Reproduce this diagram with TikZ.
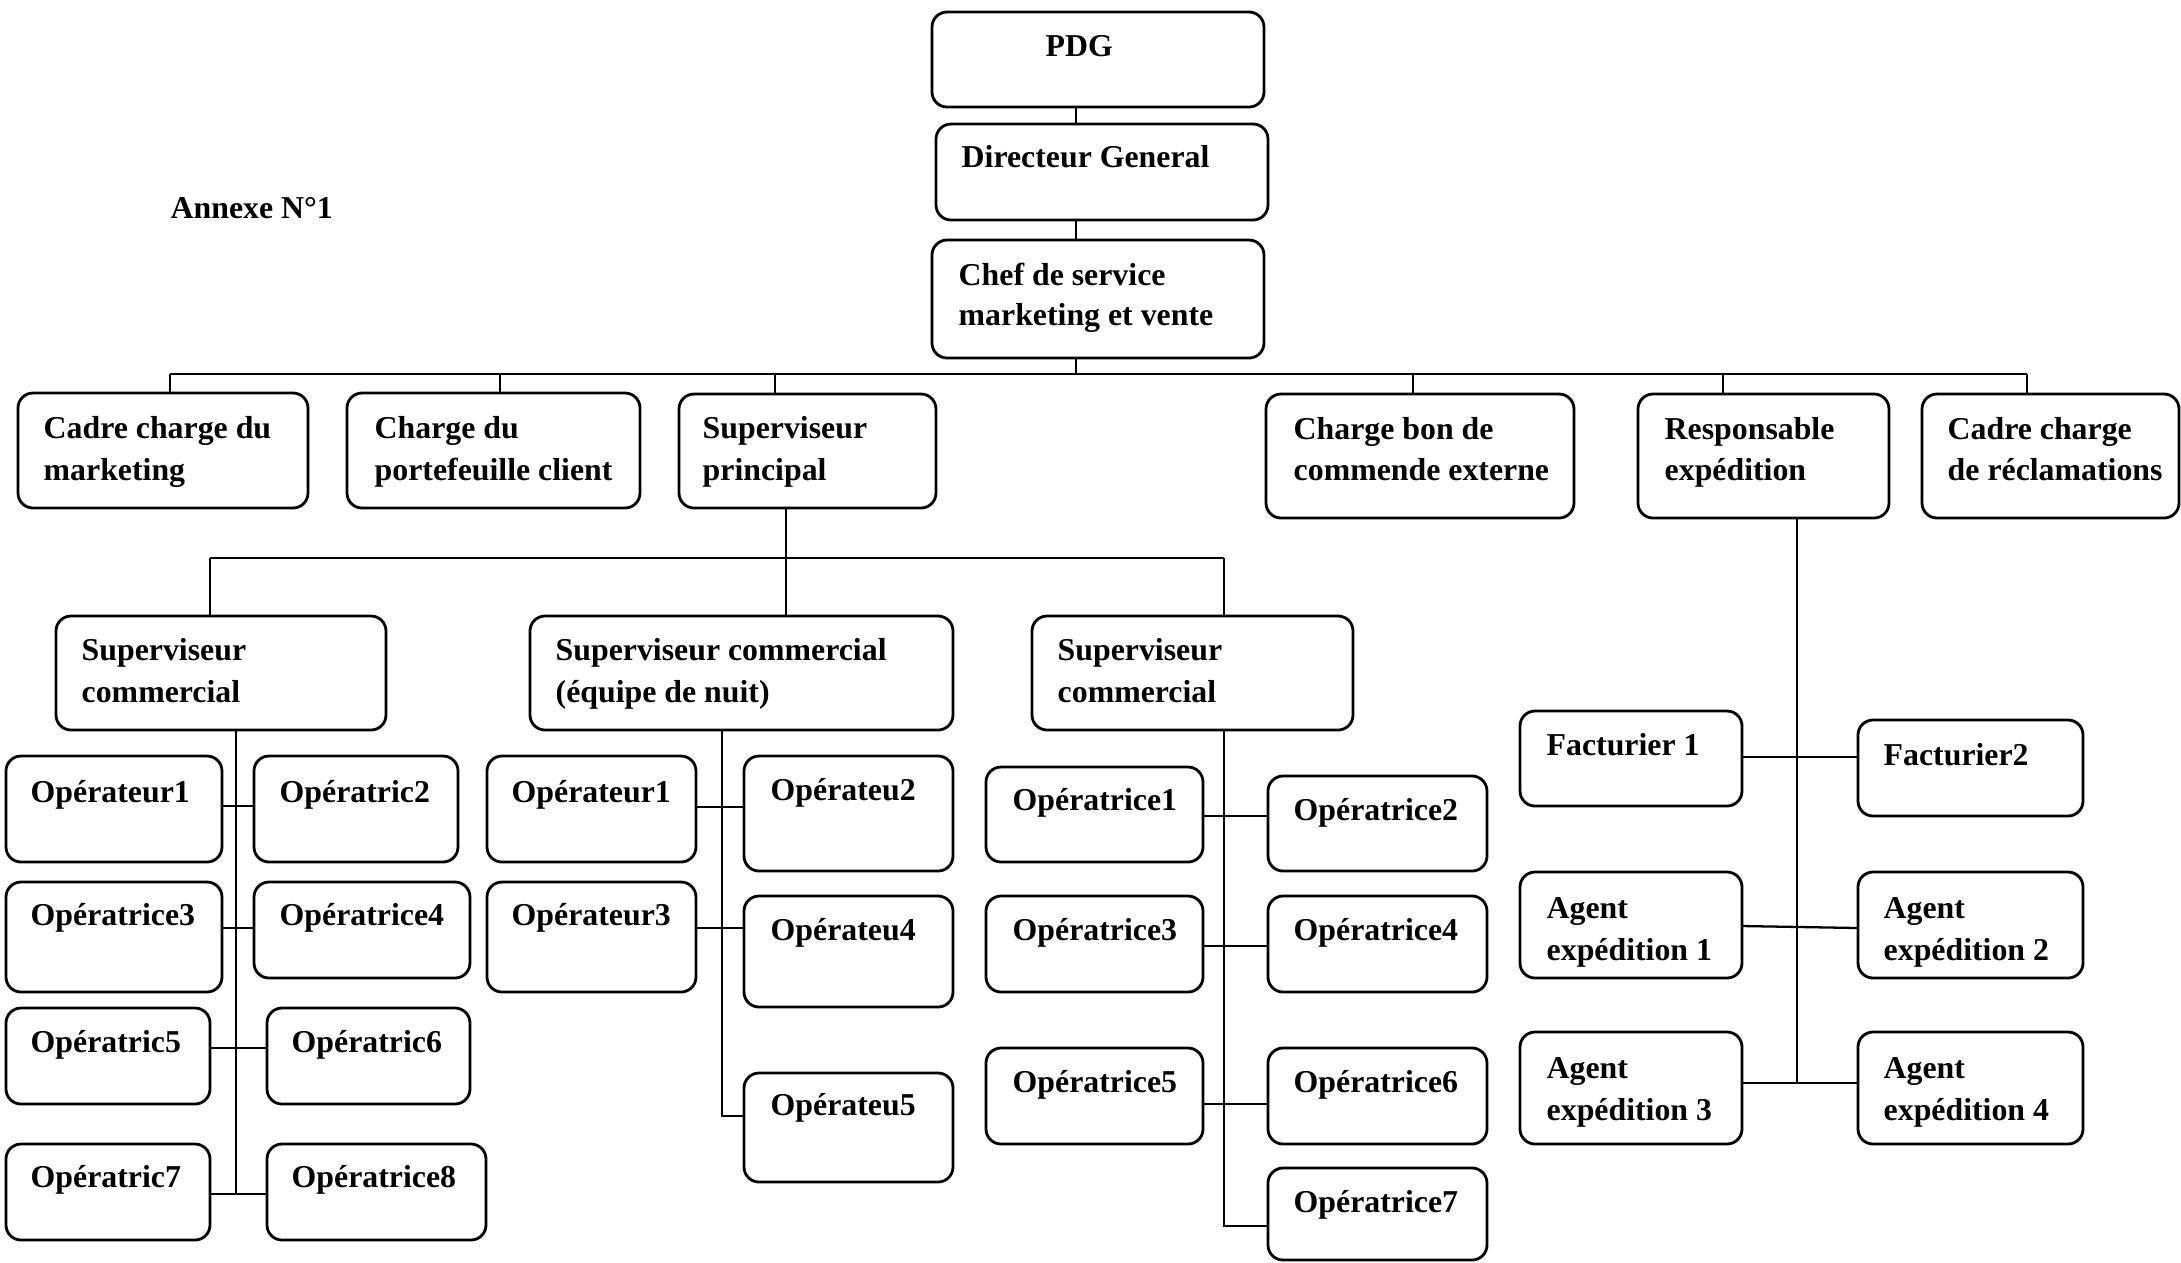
\documentclass[tikz,border=0pt]{standalone}
\usepackage{fontspec}
\setmainfont{Liberation Serif}
\newcommand\orgbox[5]{\node[obox, minimum width={(#4-#2)*0.01cm}, minimum height={(#5-#3)*0.01cm}] (#1) at ({(#2+#4)/2},{(#3+#5)/2}) {};}
\newcommand\orgtxt[4]{\node[otxt] (#1) at (#2,#3) {#4};}
\begin{document}
\begin{tikzpicture}[x=0.01cm,y=-0.01cm,
  obox/.style={draw, rounded corners=0.15cm, line width=0.8pt, inner sep=0pt, outer sep=0pt},
  otxt/.style={anchor=base west, inner sep=0pt, font=\bfseries\fontsize{9.05}{11}\selectfont},
  conn/.style={line width=0.65pt}]
\useasboundingbox (0,0) rectangle (2181,1262);

% top chain
\orgbox{pdg}{932}{12}{1264}{107}
\orgtxt{pdgT}{1045}{56}{PDG}
\orgbox{dg}{936}{124}{1268}{220}
\orgtxt{dgT}{961}{167}{Directeur General}
\orgbox{chef}{932}{240}{1264}{358}
\orgtxt{chefT1}{958}{285}{Chef de service}
\orgtxt{chefT2}{958}{325}{marketing et vente}
\orgtxt{annexe}{170}{218}{Annexe N°1}

% level 2
\orgbox{cadre}{18}{393}{308}{508}
\orgtxt{cadreT1}{43}{438}{Cadre charge du}
\orgtxt{cadreT2}{43}{480}{marketing}
\orgbox{port}{347}{393}{640}{508}
\orgtxt{portT1}{374}{438}{Charge du}
\orgtxt{portT2}{374}{480}{portefeuille client}
\orgbox{supp}{679}{394}{936}{508}
\orgtxt{suppT1}{702}{438}{Superviseur}
\orgtxt{suppT2}{702}{480}{principal}
\orgbox{bon}{1266}{394}{1574}{518}
\orgtxt{bonT1}{1293}{439}{Charge bon de}
\orgtxt{bonT2}{1293}{480}{commende externe}
\orgbox{resp}{1638}{394}{1889}{518}
\orgtxt{respT1}{1664}{439}{Responsable}
\orgtxt{respT2}{1664}{480}{expédition}
\orgbox{recl}{1922}{394}{2179}{518}
\orgtxt{reclT1}{1947}{439}{Cadre charge}
\orgtxt{reclT2}{1947}{480}{de réclamations}

% level 3
\orgbox{scl}{56}{616}{386}{730}
\orgtxt{sclT1}{81}{660}{Superviseur}
\orgtxt{sclT2}{81}{702}{commercial}
\orgbox{scn}{530}{616}{953}{730}
\orgtxt{scnT1}{555}{660}{Superviseur commercial}
\orgtxt{scnT2}{555}{702}{(équipe de nuit)}
\orgbox{scr}{1032}{616}{1353}{730}
\orgtxt{scrT1}{1057}{660}{Superviseur}
\orgtxt{scrT2}{1057}{702}{commercial}

% left team
\orgbox{o1}{6}{756}{222}{862}\orgtxt{o1T}{30}{802}{Opérateur1}
\orgbox{o2}{254}{756}{458}{862}\orgtxt{o2T}{279}{802}{Opératric2}
\orgbox{o3}{6}{882}{222}{992}\orgtxt{o3T}{30}{925}{Opératrice3}
\orgbox{o4}{254}{882}{470}{978}\orgtxt{o4T}{279}{925}{Opératrice4}
\orgbox{o5}{6}{1008}{210}{1104}\orgtxt{o5T}{30}{1052}{Opératric5}
\orgbox{o6}{267}{1008}{470}{1104}\orgtxt{o6T}{291}{1052}{Opératric6}
\orgbox{o7}{6}{1144}{210}{1240}\orgtxt{o7T}{30}{1187}{Opératric7}
\orgbox{o8}{267}{1144}{486}{1240}\orgtxt{o8T}{291}{1187}{Opératrice8}

% night team
\orgbox{n1}{487}{756}{696}{862}\orgtxt{n1T}{511}{802}{Opérateur1}
\orgbox{n2}{744}{756}{953}{871}\orgtxt{n2T}{770}{800}{Opérateu2}
\orgbox{n3}{487}{882}{696}{992}\orgtxt{n3T}{511}{925}{Opérateur3}
\orgbox{n4}{744}{896}{953}{1007}\orgtxt{n4T}{770}{940}{Opérateu4}
\orgbox{n5}{744}{1073}{953}{1182}\orgtxt{n5T}{770}{1115}{Opérateu5}

% right team
\orgbox{r1}{986}{767}{1203}{862}\orgtxt{r1T}{1012}{810}{Opératrice1}
\orgbox{r2}{1268}{776}{1487}{871}\orgtxt{r2T}{1293}{820}{Opératrice2}
\orgbox{r3}{986}{896}{1203}{992}\orgtxt{r3T}{1012}{940}{Opératrice3}
\orgbox{r4}{1268}{896}{1487}{992}\orgtxt{r4T}{1293}{940}{Opératrice4}
\orgbox{r5}{986}{1048}{1203}{1144}\orgtxt{r5T}{1012}{1092}{Opératrice5}
\orgbox{r6}{1268}{1048}{1487}{1144}\orgtxt{r6T}{1293}{1092}{Opératrice6}
\orgbox{r7}{1268}{1168}{1487}{1260}\orgtxt{r7T}{1293}{1212}{Opératrice7}

% expedition team
\orgbox{f1}{1520}{711}{1742}{806}\orgtxt{f1T}{1546}{755}{Facturier 1}
\orgbox{f2}{1858}{720}{2083}{816}\orgtxt{f2T}{1883}{765}{Facturier2}
\orgbox{a1}{1520}{872}{1742}{978}
\orgtxt{a1T1}{1546}{918}{Agent}\orgtxt{a1T2}{1546}{960}{expédition 1}
\orgbox{a2}{1858}{872}{2083}{978}
\orgtxt{a2T1}{1883}{918}{Agent}\orgtxt{a2T2}{1883}{960}{expédition 2}
\orgbox{a3}{1520}{1032}{1742}{1144}
\orgtxt{a3T1}{1546}{1078}{Agent}\orgtxt{a3T2}{1546}{1120}{expédition 3}
\orgbox{a4}{1858}{1032}{2083}{1144}
\orgtxt{a4T1}{1883}{1078}{Agent}\orgtxt{a4T2}{1883}{1120}{expédition 4}

% coordinates for connector geometry
\coordinate (c1) at (1076,0);
\coordinate (d1) at (170,374);
\coordinate (d2) at (500,374);
\coordinate (d3) at (775,374);
\coordinate (dc) at (1076,374);
\coordinate (d4) at (1413,374);
\coordinate (d5) at (1723,374);
\coordinate (d6) at (2027,374);
\coordinate (sp) at (786,558);
\coordinate (e1) at (210,558);
\coordinate (e3) at (1224,558);
\coordinate (tl) at (236,1194);
\coordinate (tn) at (722,1116);
\coordinate (tr) at (1224,1226);
\coordinate (tx) at (1797,1083);
\coordinate (h1) at (0,806);
\coordinate (h2) at (0,928);
\coordinate (h3) at (0,1048);
\coordinate (h5) at (0,807);
\coordinate (h6) at (0,928);
\coordinate (h8) at (0,816);
\coordinate (h9) at (0,946);
\coordinate (h10) at (0,1104);
\coordinate (h11) at (0,757);

\begin{scope}[conn]
% top chain
\draw (pdg.south -| c1) -- (dg.north -| c1);
\draw (dg.south -| c1) -- (chef.north -| c1);
\draw (chef.south -| c1) -- (dc);
% main bus
\draw (d1) -- (d6);
\draw (d1) -- (d1 |- cadre.north);
\draw (d2) -- (d2 |- port.north);
\draw (d3) -- (d3 |- supp.north);
\draw (d4) -- (d4 |- bon.north);
\draw (d5) -- (d5 |- resp.north);
\draw (d6) -- (d6 |- recl.north);
% supervisor bus
\draw (supp.south -| sp) -- (sp |- scn.north);
\draw (e1) -- (e3);
\draw (e1) -- (e1 |- scl.north);
\draw (e3) -- (e3 |- scr.north);
% left team
\draw (scl.south -| tl) -- (tl);
\draw (o1.east |- h1) -- (o2.west |- h1);
\draw (o3.east |- h2) -- (o4.west |- h2);
\draw (o5.east |- h3) -- (o6.west |- h3);
\draw (o7.east |- tl) -- (o8.west |- tl);
% night team
\draw (scn.south -| tn) -- (tn) -- (n5.west |- tn);
\draw (n1.east |- h5) -- (n2.west |- h5);
\draw (n3.east |- h6) -- (n4.west |- h6);
% right team
\draw (scr.south -| tr) -- (tr) -- (r7.west |- tr);
\draw (r1.east |- h8) -- (r2.west |- h8);
\draw (r3.east |- h9) -- (r4.west |- h9);
\draw (r5.east |- h10) -- (r6.west |- h10);
% expedition
\draw (resp.south -| tx) -- (tx);
\draw (f1.east |- h11) -- (f2.west |- h11);
\draw ([yshift=-0.01cm]a1.east) -- ([yshift=-0.03cm]a2.west);
\draw (a3.east |- tx) -- (a4.west |- tx);
\end{scope}
\end{tikzpicture}
\end{document}
